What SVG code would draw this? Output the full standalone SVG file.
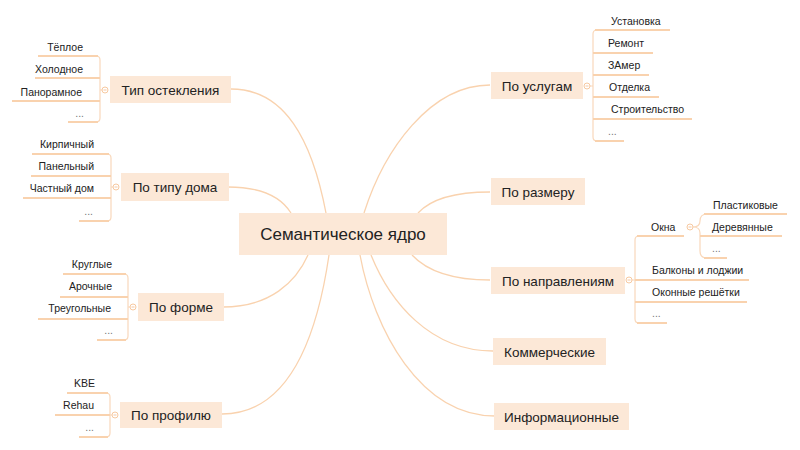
<svg xmlns="http://www.w3.org/2000/svg" width="800" height="450" viewBox="0 0 800 450">
<style>
.bg{fill:#ffffff}
.node rect{fill:#fce8d7}
.main{font-family:"Liberation Sans",Arial,sans-serif;font-size:17px;fill:#222;text-anchor:middle}
.l1{font-family:"Liberation Sans",Arial,sans-serif;font-size:13.5px;fill:#222;text-anchor:middle}
.lf{font-family:"Liberation Sans",Arial,sans-serif;font-size:10.5px;fill:#222}
.dots{font-family:"Liberation Sans",Arial,sans-serif;font-size:10.5px;fill:#777}
.e{text-anchor:end}
.s{text-anchor:start}
.con path{fill:none;stroke:#f9d2ae;stroke-width:1.3}
.ul{stroke:#f9d2ae;stroke-width:2;fill:none}
.br{stroke:#f9d8bb;stroke-width:1.2;fill:none}
.tog{fill:#fff;stroke:#f7c9a0;stroke-width:1}
.tog-m{stroke:#f3b98a;stroke-width:0.8}
</style>
<rect class="bg" x="0" y="0" width="800" height="450"/>

<g id="connectors" class="con">
<path d="M231,89 C285,89 312,140 326,213"/>
<path d="M228,187 C262,187 281,197 291,213"/>
<path d="M490,85 C430,85 384,150 364,213"/>
<path d="M490,192 C452,192 430,200 418,213"/>
<path d="M223,307 C270,307 296,282 308,255"/>
<path d="M222,414 C292,414 318,330 329,255"/>
<path d="M490,280 C452,280 426,270 412,255"/>
<path d="M493,351 C430,351 390,302 371,255"/>
<path d="M495,416 C420,416 374,330 360,255"/>
</g>

<g id="node-center" class="node">
<rect x="239" y="213" width="208" height="42"/>
<text class="main" x="343" y="240">Семантическое ядро</text>
</g>

<!-- Тип остекления -->
<g id="node-tip-osteklenia" class="node">
<rect x="110" y="76" width="121" height="27"/>
<text class="l1" x="170.5" y="94.5">Тип остекления</text>
<path class="br" d="M102,90 H100 M96,56 Q100,56 100,60 V118 Q100,122 96,122"/>
<path class="ul" d="M38,56 H98 M35,78 H100 M12,101 H100 M68,122 H98"/>
<text class="lf e" x="83" y="51">Тёплое</text>
<text class="lf e" x="83" y="73">Холодное</text>
<text class="lf e" x="82" y="96">Панорамное</text>
<text class="dots e" x="84" y="117">...</text>
<circle class="tog" cx="105" cy="90" r="3"/><path class="tog-m" d="M103.5,90 H106.5"/>
</g>

<!-- По типу дома -->
<g id="node-po-tipu-doma" class="node">
<rect x="121" y="173" width="108" height="28"/>
<text class="l1" x="175" y="191.5">По типу дома</text>
<path class="br" d="M113,187 H111 M107,154 Q111,154 111,158 V217 Q111,221 107,221"/>
<path class="ul" d="M32,154 H109 M31,176 H111 M23,198 H111 M79,221 H109"/>
<text class="lf e" x="94" y="148">Кирпичный</text>
<text class="lf e" x="94" y="170">Панельный</text>
<text class="lf e" x="94" y="192">Частный дом</text>
<text class="dots e" x="93" y="215">...</text>
<circle class="tog" cx="116" cy="187" r="3"/><path class="tog-m" d="M114.5,187 H117.5"/>
</g>

<!-- По форме -->
<g id="node-po-forme" class="node">
<rect x="138" y="293" width="86" height="28"/>
<text class="l1" x="181" y="311.5">По форме</text>
<path class="br" d="M130,307 H128 M124,274 Q128,274 128,278 V336 Q128,340 124,340"/>
<path class="ul" d="M63,274 H126 M60,297 H128 M38,319 H128 M97,340 H126"/>
<text class="lf e" x="112" y="268">Круглые</text>
<text class="lf e" x="112" y="290">Арочные</text>
<text class="lf e" x="111" y="312">Треугольные</text>
<text class="dots e" x="113" y="334">...</text>
<circle class="tog" cx="133" cy="307" r="3"/><path class="tog-m" d="M131.5,307 H134.5"/>
</g>

<!-- По профилю -->
<g id="node-po-profilyu" class="node">
<rect x="120" y="402" width="102" height="26"/>
<text class="l1" x="171" y="419.5">По профилю</text>
<path class="br" d="M112,415 H110 M106,393 Q110,393 110,397 V433 Q110,437 106,437"/>
<path class="ul" d="M67,393 H108 M55,415 H110 M79,437 H108"/>
<text class="lf e" x="95" y="387">KBE</text>
<text class="lf e" x="94" y="409">Rehau</text>
<text class="dots e" x="94" y="431">...</text>
<circle class="tog" cx="115" cy="415" r="3"/><path class="tog-m" d="M113.5,415 H116.5"/>
</g>

<!-- По услугам -->
<g id="node-po-uslugam" class="node">
<rect x="491" y="72" width="92" height="27"/>
<text class="l1" x="537" y="90.5">По услугам</text>
<path class="br" d="M590,86 H593 M597,30 Q593,30 593,34 V137 Q593,141 597,141"/>
<path class="ul" d="M595,30 H670 M593,53 H653 M593,75 H649 M593,97 H659 M593,119 H692 M595,141 H624"/>
<text class="lf s" x="611" y="25">Установка</text>
<text class="lf s" x="608" y="47">Ремонт</text>
<text class="lf s" x="608" y="69">ЗАмер</text>
<text class="lf s" x="609" y="91">Отделка</text>
<text class="lf s" x="611" y="113">Строительство</text>
<text class="dots s" x="608" y="135">...</text>
<circle class="tog" cx="587" cy="86" r="3"/><path class="tog-m" d="M585.5,86 H588.5"/>
</g>

<!-- По размеру -->
<g id="node-po-razmeru" class="node">
<rect x="491" y="178" width="94" height="27"/>
<text class="l1" x="538" y="196.5">По размеру</text>
</g>

<!-- По направлениям -->
<g id="node-po-napravleniyam" class="node">
<rect x="491" y="267" width="134" height="27"/>
<text class="l1" x="558" y="285.5">По направлениям</text>
<path class="br" d="M632,280 H635 M639,236 Q635,236 635,240 V319 Q635,323 639,323"/>
<path class="ul" d="M637,236 H684 M635,280 H749 M635,302 H747 M637,323 H667"/>
<text class="lf s" x="651" y="231">Окна</text>
<text class="lf s" x="652" y="274">Балконы и лоджии</text>
<text class="lf s" x="652" y="296">Оконные решётки</text>
<text class="dots s" x="652" y="317">...</text>
<circle class="tog" cx="629" cy="280" r="3"/><path class="tog-m" d="M627.5,280 H630.5"/>
</g>

<!-- Окна children -->
<g id="node-okna" class="node">
<path class="br" d="M693,227 Q700,227 700,221 Q700,214 707,214 M693,227 Q700,227 700,233 V251 Q700,258 707,258 M700,236 H702"/>
<path class="ul" d="M704,214 H787 M700,236 H782 M704,258 H727"/>
<text class="lf s" x="713" y="209">Пластиковые</text>
<text class="lf s" x="712" y="231">Деревянные</text>
<text class="dots s" x="712" y="252">...</text>
<circle class="tog" cx="690" cy="227" r="3"/><path class="tog-m" d="M688.5,227 H691.5"/>
</g>

<!-- Коммерческие -->
<g id="node-kommercheskie" class="node">
<rect x="493" y="338" width="113" height="27"/>
<text class="l1" x="549.5" y="356.5">Коммерческие</text>
</g>

<!-- Информационные -->
<g id="node-informatsionnye" class="node">
<rect x="494" y="403" width="135" height="27"/>
<text class="l1" x="561.5" y="421.5">Информационные</text>
</g>
</svg>
